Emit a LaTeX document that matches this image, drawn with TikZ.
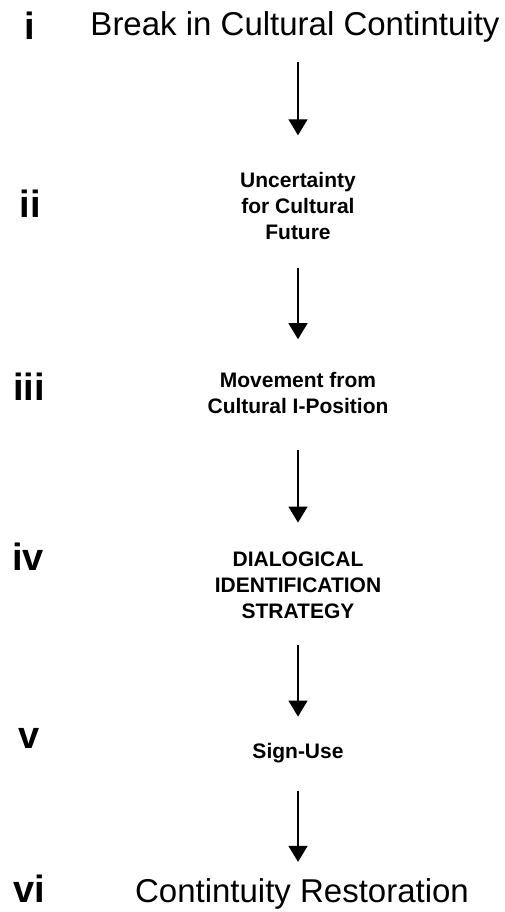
\documentclass[tikz,border=0pt]{standalone}
\usepackage{fontspec}
\setmainfont{Liberation Sans}
\usetikzlibrary{arrows.meta}

\tikzstyle{numeral} = [anchor=base, inner sep=0pt, font=\fontsize{38}{40}\selectfont\bfseries]
\tikzstyle{bigtext} = [anchor=base, inner sep=0pt, font=\fontsize{33}{36}\selectfont]
\tikzstyle{smalltext} = [align=center, inner sep=0pt, font=\fontsize{21}{25.8}\selectfont\bfseries]
\tikzstyle{flow} = [line width=1.3pt, -{Triangle[width=19pt,length=16pt]}]

\begin{document}
\begin{tikzpicture}[x=1pt, y=-1pt]
	\useasboundingbox (0,0) rectangle (504,912);

	% roman numerals on the left
	\node [numeral] (n1) at (30,40) {i};
	\node [numeral] (n2) at (30,217) {ii};
	\node [numeral] (n3) at (29,400) {iii};
	\node [numeral] (n4) at (28,570) {iv};
	\node [numeral] (n5) at (29,748) {v};
	\node [numeral] (n6) at (29,902) {vi};

	% the steps
	\node [bigtext] (break) at (295,36) {Break in Cultural Contintuity};
	\node [smalltext] (future) at (298,206) {Uncertainty\\for Cultural\\Future};
	\node [smalltext] (move) at (298,393) {Movement from\\Cultural I-Position};
	\node [smalltext] (dialog) at (298,585) {DIALOGICAL\\IDENTIFICATION\\STRATEGY};
	\node [smalltext, anchor=base] (sign) at (298,758) {Sign-Use};
	\node [bigtext] (restore) at (302,902) {Contintuity Restoration};

	\draw [flow, shorten <=19pt, shorten >=37pt] (future |- break.south) -- (future.north);
	\draw [flow, shorten <=28pt, shorten >=33pt] (future.south) -- (move.north);
	\draw [flow, shorten <=36pt, shorten >=29pt] (move.south) -- (dialog.north);
	\draw [flow, shorten <=27pt, shorten >=26pt] (dialog.south) -- (sign.north);
	\draw [flow, shorten <=28pt, shorten >=16pt] (sign.south) -- (sign |- restore.north);
\end{tikzpicture}
\end{document}
